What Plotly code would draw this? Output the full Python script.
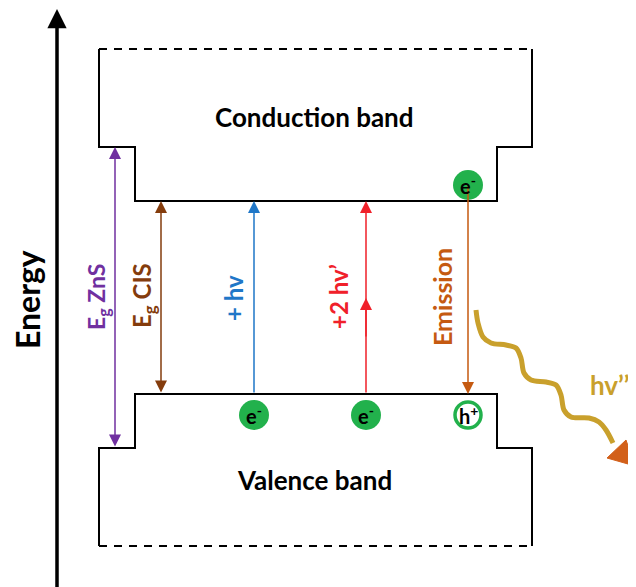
import plotly.graph_objects as go

# ---- diagram data (energy units: 0 at bottom of canvas, increases upward) ----
band_x = [99, 135, 497, 532]          # ZnS left, CIS left, CIS right, ZnS right
E_top = 538                            # top of conduction band (dashed)
E_cb_zns = 440                         # ZnS conduction band edge
E_cb_cis = 386                         # CIS conduction band edge
E_vb_cis = 193                         # CIS valence band edge
E_vb_zns = 139                         # ZnS valence band edge
E_bot = 41                             # bottom of valence band (dashed)

arrow_x = {"zns": 115, "cis": 161, "hv": 254, "hv2": 366, "em": 468}
electron_x = [254, 366]
E_carrier_vb = 172
E_carrier_cb = 402
E_red_mid = 289

wave_x = [476, 478, 483, 491, 506, 516, 521, 524, 531, 546, 556, 561, 564, 571, 589, 599, 606, 613]
wave_E = [277, 264, 250, 244, 242, 239, 229, 214, 207, 205, 202, 192, 177, 170, 169, 165, 157, 144]
head_x = [635, 607, 626, 635]
head_E = [121, 129, 147, 121]

PURPLE = "#7030A0"
BROWN = "#843C0C"
BLUE = "#1F77C8"
RED = "#F0202A"
EMIT = "#C55A11"
GOLD = "#C9A02C"
HEADC = "#D2601A"
GREEN = "#22B14C"
FONT = "Lato"

fig = go.Figure()

x0, x1, x2, x3 = band_x
# conduction band outline
fig.add_trace(go.Scatter(
    x=[x0, x0, x1, x1, x2, x2, x3, x3],
    y=[E_top, E_cb_zns, E_cb_zns, E_cb_cis, E_cb_cis, E_cb_zns, E_cb_zns, E_top],
    mode="lines", line=dict(color="black", width=2), hoverinfo="skip"))
fig.add_trace(go.Scatter(x=[x0, x3], y=[E_top, E_top], mode="lines",
                         line=dict(color="black", width=2, dash="8px,7px"), hoverinfo="skip"))
# valence band outline
fig.add_trace(go.Scatter(
    x=[x0, x0, x1, x1, x2, x2, x3, x3],
    y=[E_bot, E_vb_zns, E_vb_zns, E_vb_cis, E_vb_cis, E_vb_zns, E_vb_zns, E_bot],
    mode="lines", line=dict(color="black", width=2), hoverinfo="skip"))
fig.add_trace(go.Scatter(x=[x0, x3], y=[E_bot, E_bot], mode="lines",
                         line=dict(color="black", width=2, dash="8px,7px"), hoverinfo="skip"))

# emitted photon wave
fig.add_trace(go.Scatter(x=wave_x, y=wave_E, mode="lines",
                         line=dict(color=GOLD, width=5, shape="spline", smoothing=0.9),
                         hoverinfo="skip"))
fig.add_trace(go.Scatter(x=head_x, y=head_E, mode="lines", fill="toself",
                         fillcolor=HEADC, line=dict(color=HEADC, width=1), hoverinfo="skip"))

# carriers
fig.add_trace(go.Scatter(x=electron_x + [arrow_x["em"]],
                         y=[E_carrier_vb, E_carrier_vb, E_carrier_cb],
                         mode="markers", marker=dict(size=30, color=GREEN, line=dict(width=0)),
                         hoverinfo="skip"))
fig.add_trace(go.Scatter(x=[arrow_x["em"]], y=[E_carrier_vb], mode="markers",
                         marker=dict(size=26, color="white", line=dict(width=3.5, color=GREEN)),
                         hoverinfo="skip"))

ann = []


def arrow(x, y_head, y_tail, color, width=1.5, both=False, size=1.6):
    ann.append(dict(x=x, y=y_head, ax=x, ay=y_tail, xref="x", yref="y", axref="x", ayref="y",
                    showarrow=True, arrowhead=2, arrowsize=size, arrowwidth=width,
                    arrowcolor=color, arrowside="end+start" if both else "end",
                    standoff=0, startstandoff=0, text=""))


# energy axis
arrow(57, 578, -15, "black", width=3.5, size=1.1)
arrow(arrow_x["zns"], E_cb_zns, E_vb_zns, PURPLE, both=True)
arrow(arrow_x["cis"], E_cb_cis, E_vb_cis, BROWN, both=True)
arrow(arrow_x["hv"], E_cb_cis, E_vb_cis, BLUE)
arrow(arrow_x["hv2"], E_cb_cis, E_vb_cis, RED)
arrow(arrow_x["hv2"], E_red_mid, E_red_mid - 40, RED)
arrow(arrow_x["em"], E_vb_cis, E_carrier_cb, EMIT)


def label(x, y, text, color, size, angle=0):
    ann.append(dict(x=x, y=y, xref="x", yref="y", text=text, showarrow=False,
                    textangle=angle, font=dict(family=FONT, size=size, color=color, weight="bold"),
                    xanchor="center", yanchor="middle"))


label(314, 470, "Conduction band", "black", 26)
label(314, 107, "Valence band", "black", 26)
label(27, 287, "Energy", "black", 32, -90)
label(97, 290, "E<sub>g</sub> ZnS", PURPLE, 23, -90)
label(143, 291, "E<sub>g</sub> CIS", BROWN, 24, -90)
label(233, 289, "+ hv", BLUE, 24, -90)
label(338, 290, "+2 hv’", RED, 24, -90)
label(442, 290, "Emission", EMIT, 25, -90)
label(610, 202, "hv’’", GOLD, 26)
label(468, E_carrier_cb, "e<sup>-</sup>", "black", 20)
for ex in electron_x:
    label(ex, E_carrier_vb, "e<sup>-</sup>", "black", 20)
label(arrow_x["em"], E_carrier_vb, "h<sup>+</sup>", "black", 20)

# page body has an 8px default margin: shift axis ranges so the drawing lands in place
fig.update_layout(
    width=636, height=587, margin=dict(l=0, r=0, t=0, b=0),
    paper_bgcolor="white", plot_bgcolor="white", showlegend=False,
    xaxis=dict(range=[8, 644], visible=False, fixedrange=True),
    yaxis=dict(range=[-8, 579], visible=False, fixedrange=True),
    annotations=ann,
)
fig.write_html("out.html")
